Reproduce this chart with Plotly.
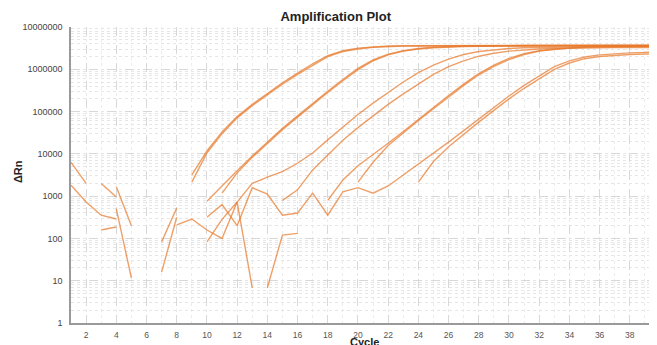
import plotly.graph_objects as go

N = None
cycles = list(range(1, 41))

# ΔRn values per cycle (None = not plotted on log scale / negative)
A1 = [6300, 2000, N, N, N, N, N, N,
      3200, 11700, 33000, 76000, 148000, 270000, 480000, 810000, 1350000, 2090000,
      2750000, 3160000, 3390000, 3550000, 3590000, 3620000, 3630000, 3640000, 3650000,
      3660000, 3670000, 3680000, 3690000, 3700000, 3700000, 3710000, 3710000, 3720000,
      3720000, 3720000, 3730000, 3730000]
A2 = [1820, 724, 355, 288, N, N, N, N,
      2140, 10500, 30000, 71000, 138000, 251000, 447000, 759000, 1260000, 2000000,
      2630000, 3020000, 3310000, 3470000, 3530000, 3560000, 3580000, 3590000, 3600000,
      3610000, 3620000, 3620000, 3630000, 3630000, 3640000, 3640000, 3650000, 3650000,
      3650000, 3660000, 3660000, 3660000]
B1 = [N, N, 2000, 955, N, N, 83, 525, N,
      760, 1780, 3980, 8900, 19000, 40000, 79000, 158000, 302000, 575000, 1050000,
      1660000, 2290000, 2750000, 3090000, 3310000, 3470000, 3530000, 3560000, 3580000,
      3590000, 3600000, 3610000, 3620000, 3620000, 3630000, 3630000, 3640000, 3640000,
      3640000, 3650000]
B2 = [N, N, 158, 186, N, N, 16, 316, N, N,
      1180, 3550, 8300, 17800, 37000, 74000, 148000, 282000, 537000, 977000,
      1580000, 2190000, 2690000, 3020000, 3240000, 3390000, 3470000, 3510000, 3530000,
      3540000, 3550000, 3560000, 3570000, 3570000, 3580000, 3580000, 3590000, 3590000,
      3590000, 3600000]
C1 = [N, N, N, 1660, 200, N, N, N, N,
      83, 282, 724, 2000, 2820, 3800, 6000, 10500, 21400, 42700, 85000,
      158000, 288000, 501000, 832000, 1260000, 1740000, 2240000, 2630000, 2880000,
      3090000, 3240000, 3310000, 3360000, 3390000, 3410000, 3430000, 3440000, 3450000,
      3460000, 3470000]
C2 = [N, N, N, 500, 11.5, N, N, N, N, N, N, N, N, N,
      794, 1410, 4170, 9550, 20900, 41700, 79400, 148000, 263000, 457000, 759000,
      1150000, 1580000, 2040000, 2400000, 2690000, 2880000, 3020000, 3100000, 3160000,
      3200000, 3230000, 3250000, 3270000, 3280000, 3290000]
D1 = [N, N, N, N, N, N, N,
      209, 288, 158, 100, 724, 6.8, N, N, N, N,
      794, 2400, 5250, 9550, 17800, 33900, 66100, 126000, 240000, 447000, 794000,
      1260000, 1820000, 2340000, 2750000, 3020000, 3240000, 3390000, 3470000, 3510000,
      3540000, 3560000, 3570000]
D2 = [N] * 19 + [
      2140, 6310, 15800, 31600, 61700, 117000, 224000, 417000, 741000, 1170000,
      1700000, 2240000, 2690000, 2950000, 3160000, 3310000, 3390000, 3440000, 3470000,
      3490000, 3500000]
E1 = [N] * 9 + [
      316, 630, 200, 1580, 1120, 355, 398, 1175, 355, 1260, 1585, 1175, 1740, 3160,
      5620, 10500, 19000, 35500, 67600, 126000, 234000, 417000, 708000, 1150000,
      1580000, 1950000, 2190000, 2340000, 2450000, 2510000, 2570000]
E2 = [N] * 13 + [6.8, 120, 132, N, N, N, N, N, N, N,
      2140, 6600, 14800, 29500, 56200, 107000, 200000, 355000, 603000, 1000000,
      1410000, 1780000, 2000000, 2140000, 2240000, 2290000, 2340000]

series = [A1, A2, B1, B2, C1, C2, D1, D2, E1, E2]

y_tickvals = [1, 10, 100, 1000, 10000, 100000, 1000000, 10000000]
y_ticktext = ["1", "10", "100", "1000", "10000", "100000", "1000000", "10000000"]
x_tickvals = list(range(2, 40, 2))

fig = go.Figure()
for s in series:
    fig.add_trace(go.Scatter(
        x=cycles, y=s, mode="lines", connectgaps=False,
        line=dict(color="rgba(231,122,45,0.72)", width=1.4),
        showlegend=False, hoverinfo="skip"))

# page body has an 8px margin, so the figure is sized/offset to compensate
fig.update_layout(
    width=649, height=337,
    margin=dict(l=63, r=0, t=19, b=22),
    paper_bgcolor="white", plot_bgcolor="white",
    font=dict(family="Liberation Sans, Arial, sans-serif", size=9, color="#555"),
    title=dict(text="<b>Amplification Plot</b>", xref="container", x=0.505,
               xanchor="center", yref="container", y=1 - 8 / 337, yanchor="middle",
               font=dict(size=13, color="#222", family="Liberation Sans, Arial, sans-serif")),
)

fig.update_xaxes(
    range=[1, 39.8], tickvals=x_tickvals, ticks="", ticklabelstandoff=3,
    showline=True, linecolor="#9a9a9a", linewidth=1.5,
    showgrid=True, gridcolor="#d8d8d8", griddash="dash", gridwidth=1,
    minor=dict(dtick=1, showgrid=True, gridcolor="#ececec", griddash="dot", gridwidth=1),
    zeroline=False, tickfont=dict(size=8.5, color="#555"),
)
fig.update_yaxes(
    type="log", range=[0, 7], tickvals=y_tickvals, ticktext=y_ticktext,
    ticks="", ticklabelstandoff=5,
    showline=True, linecolor="#9a9a9a", linewidth=1.5,
    showgrid=True, gridcolor="#d8d8d8", griddash="dash", gridwidth=1,
    minor=dict(dtick="D1", showgrid=True, gridcolor="#e6e6e6", griddash="dot", gridwidth=1),
    zeroline=False, tickfont=dict(size=9, color="#444"),
)

fig.add_annotation(text="<b>ΔRn</b>", xref="paper", yref="paper",
                   x=(18 - 71) / 586, y=0.51, textangle=-90, showarrow=False,
                   xanchor="center", yanchor="middle",
                   font=dict(size=11, color="#222", family="Liberation Sans, Arial, sans-serif"))
fig.add_annotation(text="<b>Cycle</b>", xref="paper", yref="paper",
                   x=0.5, y=(323 - 335) / 296, showarrow=False,
                   xanchor="center", yanchor="top", borderpad=0,
                   font=dict(size=11, color="#222", family="Liberation Sans, Arial, sans-serif"))

fig.write_html("out.html")
